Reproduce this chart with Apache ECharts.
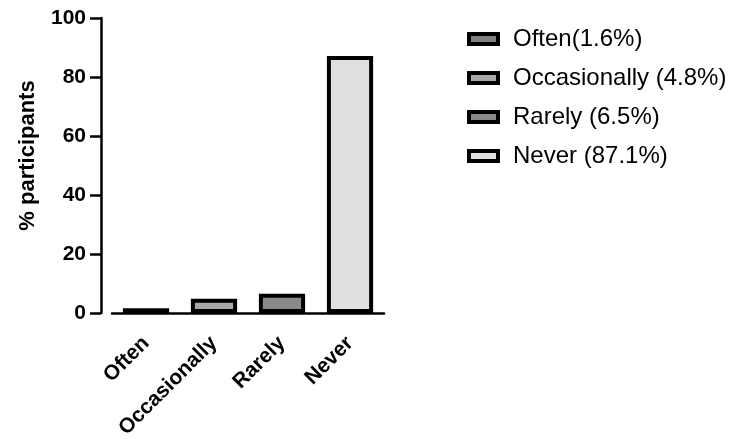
<!DOCTYPE html>
<html>
<head>
<meta charset="utf-8">
<script src="https://cdn.jsdelivr.net/npm/echarts@6/dist/echarts.min.js"></script>
<style>
  html, body { margin: 0; padding: 0; background: #fff; }
  #chart { width: 731px; height: 439px; }
</style>
</head>
<body>
<div id="chart"></div>
<script>
const categories = ['Often', 'Occasionally', 'Rarely', 'Never'];
const values = [1.6, 4.8, 6.5, 87.1];
const legendNames = ['Often(1.6%)', 'Occasionally (4.8%)', 'Rarely (6.5%)', 'Never (87.1%)'];
const fills = ['#808080', '#a8a8a8', '#8a8a8a', '#e0e0e0'];
const yTicks = [0, 20, 40, 60, 80, 100];

const font = 'Arial, "Liberation Sans", sans-serif';
const chart = echarts.init(document.getElementById('chart'));

const series = categories.map((c, i) => ({
  name: legendNames[i],
  type: 'bar',
  stack: 'all',
  barWidth: '68%',
  data: categories.map((_, j) => (j === i ? values[i] : null)),
  itemStyle: { color: fills[i], borderColor: '#000', borderWidth: 4 }
}));

chart.setOption({
  animation: false,
  backgroundColor: '#fff',
  grid: { left: 112, right: 347, top: 18, bottom: 126, outerBoundsMode: 'none' },
  legend: {
    orient: 'vertical',
    left: 462,
    top: 21,
    icon: 'rect',
    itemWidth: 29,
    itemHeight: 10,
    itemGap: 13,
    data: legendNames,
    itemStyle: { borderColor: '#000', borderWidth: 4 },
    textStyle: { fontFamily: font, fontSize: 24, color: '#000', lineHeight: 26, padding: [0, 0, 0, 10] }
  },
  xAxis: {
    type: 'category',
    data: categories,
    axisLine: { lineStyle: { color: '#000', width: 2.5 } },
    axisTick: { alignWithLabel: true, length: 10, lineStyle: { color: '#000', width: 2.5 } },
    axisLabel: {
      rotate: 45, fontFamily: font, fontWeight: 'bold', fontSize: 21,
      color: '#000', margin: 27
    }
  },
  yAxis: {
    type: 'value',
    min: yTicks[0],
    max: yTicks[yTicks.length - 1],
    interval: 20,
    offset: 11,
    name: '% participants',
    nameLocation: 'middle',
    nameGap: 62,
    nameTextStyle: { fontFamily: font, fontWeight: 'bold', fontSize: 22, color: '#000', padding: [0, 0, 0, 20] },
    axisLine: { show: true, lineStyle: { color: '#000', width: 2.5 } },
    axisTick: { show: true, length: 11, lineStyle: { color: '#000', width: 2.5 } },
    splitLine: { show: false },
    axisLabel: { fontFamily: font, fontWeight: 'bold', fontSize: 21, color: '#000', margin: 15 }
  },
  series: series
});
</script>
</body>
</html>
